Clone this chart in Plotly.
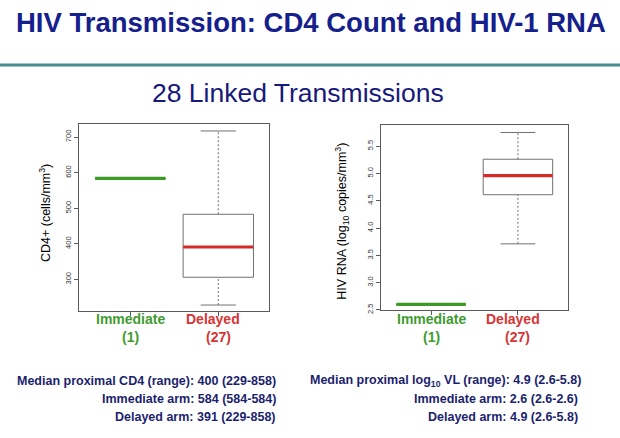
import plotly.graph_objects as go

W, H = 620, 438

# ---------------- data ----------------
groups = ["Immediate", "Delayed"]
group_n = [1, 27]
group_pos = [1, 2]
group_colors = ["#3c9a28", "#d42a2a"]
label_colors = ["#3f9b30", "#d73434"]

cd4_low = [584, 228]
cd4_q1 = [584, 306]
cd4_med = [584, 391]
cd4_q3 = [584, 483]
cd4_high = [584, 717]
cd4_ticks = [300, 400, 500, 600, 700]

rna_low = [2.6, 3.71]
rna_q1 = [2.6, 4.61]
rna_med = [2.6, 4.96]
rna_q3 = [2.6, 5.26]
rna_high = [2.6, 5.75]
rna_ticks = [2.5, 3.0, 3.5, 4.0, 4.5, 5.0, 5.5]

title = "HIV Transmission: CD4 Count and HIV-1 RNA"
subtitle = "28 Linked Transmissions"
left_notes = ["Median proximal CD4 (range): 400 (229-858)",
              "Immediate arm: 584 (584-584)",
              "Delayed arm: 391 (229-858)"]
right_notes = ["Median proximal log<sub>10</sub> VL (range): 4.9 (2.6-5.8)",
               "Immediate arm: 2.6 (2.6-2.6)",
               "Delayed arm: 4.9 (2.6-5.8)"]

FONT = "Liberation Sans, Arial, Helvetica, sans-serif"
BOX_W = 0.4   # half box width (data units)
CAP_W = 0.2   # half cap width
GRAY = "#707070"

def px(x):
    return x / W

def py(y):
    return 1 - y / H

fig = go.Figure()

def add_boxes(xa, ya, lo, q1, med, q3, hi):
    for i, p in enumerate(group_pos):
        kw = dict(xaxis=xa, yaxis=ya, mode="lines", showlegend=False, hoverinfo="skip")
        # whiskers (dotted)
        fig.add_trace(go.Scatter(x=[p, p], y=[q3[i], hi[i]],
                                 line=dict(color=GRAY, width=1, dash="2px,2px"), **kw))
        fig.add_trace(go.Scatter(x=[p, p], y=[lo[i], q1[i]],
                                 line=dict(color=GRAY, width=1, dash="2px,2px"), **kw))
        # caps
        fig.add_trace(go.Scatter(x=[p - CAP_W, p + CAP_W], y=[hi[i], hi[i]],
                                 line=dict(color=GRAY, width=1), **kw))
        fig.add_trace(go.Scatter(x=[p - CAP_W, p + CAP_W], y=[lo[i], lo[i]],
                                 line=dict(color=GRAY, width=1), **kw))
        # box
        fig.add_trace(go.Scatter(x=[p - BOX_W, p + BOX_W, p + BOX_W, p - BOX_W, p - BOX_W],
                                 y=[q1[i], q1[i], q3[i], q3[i], q1[i]],
                                 line=dict(color=GRAY, width=1), **kw))
        # median
        fig.add_trace(go.Scatter(x=[p - BOX_W, p + BOX_W], y=[med[i], med[i]],
                                 line=dict(color=group_colors[i], width=3.2), **kw))

add_boxes("x", "y", cd4_low, cd4_q1, cd4_med, cd4_q3, cd4_high)
add_boxes("x2", "y2", rna_low, rna_q1, rna_med, rna_q3, rna_high)

axis_common = dict(showgrid=False, zeroline=False, showline=True, mirror=True,
                   linecolor="#5a5a5a", linewidth=1, ticks="outside", ticklen=4,
                   tickcolor="#5a5a5a", tickwidth=1)

x_common = dict(axis_common, range=[0.42, 2.58], tickvals=group_pos, showticklabels=False)

fig.update_layout(
    width=W, height=H, autosize=False,
    margin=dict(l=0, r=0, t=0, b=0),
    paper_bgcolor="white", plot_bgcolor="white",
    showlegend=False,
    xaxis=dict(x_common, domain=[px(79.3), px(269.3)], anchor="y"),
    yaxis=dict(axis_common, domain=[py(314.3), py(125)], anchor="x",
               range=[210, 737], tickvals=cd4_ticks, tickangle=-90,
               tickfont=dict(family=FONT, size=7.5, color="#333333")),
    xaxis2=dict(x_common, domain=[px(380.7), px(568.3)], anchor="y2"),
    yaxis2=dict(axis_common, domain=[py(313.3), py(126)], anchor="x2",
                range=[2.49, 5.89], tickvals=rna_ticks, tickformat=".1f", tickangle=-90,
                tickfont=dict(family=FONT, size=7.5, color="#333333")),
)

ann = []
# title and subtitle
ann.append(dict(text="<b>" + title + "</b>", x=px(311), y=py(22.5), xref="paper", yref="paper",
                xanchor="center", yanchor="middle", showarrow=False,
                font=dict(family=FONT, size=27.5, color="#15208c")))
ann.append(dict(text=subtitle, x=px(298), y=py(93.5), xref="paper", yref="paper",
                xanchor="center", yanchor="middle", showarrow=False,
                font=dict(family=FONT, size=26.5, color="#16197a")))

# y titles
ann.append(dict(text="CD4+ (cells/mm<sup>3</sup>)", x=px(45), y=py(215), xref="paper", yref="paper",
                xanchor="center", yanchor="middle", textangle=-90, showarrow=False,
                font=dict(family=FONT, size=12.5, color="black")))
ann.append(dict(text="HIV RNA (log<sub>10</sub> copies/mm<sup>3</sup>)", x=px(341.7), y=py(223),
                xref="paper", yref="paper", xanchor="center", yanchor="middle", textangle=-90,
                showarrow=False, font=dict(family=FONT, size=12.5, color="black")))

# category labels
for xr in ["x", "x2"]:
    for i, p in enumerate(group_pos):
        shift = -5 if i == 1 else 0
        ann.append(dict(text="<b>" + groups[i] + "</b>", x=p, xref=xr, y=py(322.3), yref="paper",
                        xanchor="center", yanchor="middle", xshift=shift, showarrow=False,
                        font=dict(family=FONT, size=14, color=label_colors[i])))
        ann.append(dict(text="<b>(" + str(group_n[i]) + ")</b>", x=p, xref=xr, y=py(340), yref="paper",
                        xanchor="center", yanchor="middle", showarrow=False,
                        font=dict(family=FONT, size=14, color=label_colors[i])))

# notes
note_y = [384.5, 402.2, 420.5]
left_right_edge = [278.3, 278.3, 278.3]
right_right_edge = [582.7, 580, 580]
for i in range(3):
    ann.append(dict(text="<b>" + left_notes[i] + "</b>", x=px(left_right_edge[i]), y=py(note_y[i]),
                    xref="paper", yref="paper", xanchor="right", yanchor="middle", showarrow=False,
                    font=dict(family=FONT, size=12.5, color="#1c1f6e")))
    ann.append(dict(text="<b>" + right_notes[i] + "</b>", x=px(right_right_edge[i]), y=py(note_y[i]),
                    xref="paper", yref="paper", xanchor="right", yanchor="middle", showarrow=False,
                    font=dict(family=FONT, size=12.5, color="#1c1f6e")))

fig.update_layout(annotations=ann)

# teal divider
fig.add_shape(type="line", xref="paper", yref="paper", x0=0, x1=1, y0=py(65.5), y1=py(65.5),
              line=dict(color="#4b8c8c", width=3))

fig.write_html("out.html")
